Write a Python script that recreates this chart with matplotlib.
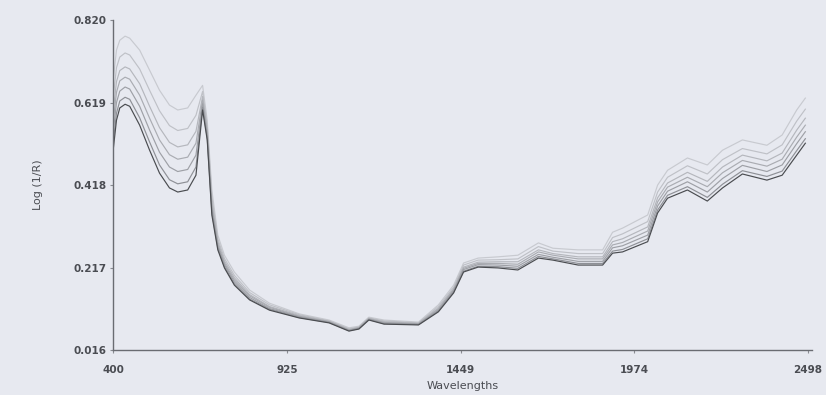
import numpy as np
import matplotlib
matplotlib.use('Agg')
import matplotlib.pyplot as plt

# Wavelength knots (nm)
wavelengths = [400, 410, 420, 436, 450, 480, 510, 540, 570, 595, 625, 650, 670, 684, 698,
               716, 736, 766, 812, 872, 962, 1052, 1112, 1142, 1172, 1218, 1322, 1382, 1428,
               1458, 1502, 1562, 1622, 1684, 1728, 1804, 1878, 1908, 1938, 2014, 2044, 2074,
               2134, 2194, 2240, 2300, 2374, 2420, 2464, 2490]

# log(1/R) spectra, lowest (darkest) to highest
spec_1 = [0.503, 0.576, 0.606, 0.615, 0.610, 0.564, 0.503, 0.447, 0.411, 0.401, 0.406, 0.442, 0.601,
          0.528, 0.345, 0.260, 0.216, 0.174, 0.138, 0.113, 0.094, 0.082, 0.062, 0.067, 0.089, 0.079,
          0.077, 0.109, 0.155, 0.206, 0.218, 0.216, 0.211, 0.240, 0.235, 0.223, 0.223, 0.252, 0.255,
          0.280, 0.350, 0.386, 0.406, 0.379, 0.411, 0.445, 0.430, 0.442, 0.491, 0.520]
spec_2 = [0.520, 0.593, 0.623, 0.632, 0.627, 0.582, 0.523, 0.467, 0.431, 0.421, 0.426, 0.462, 0.607,
          0.533, 0.351, 0.264, 0.219, 0.177, 0.140, 0.115, 0.095, 0.083, 0.063, 0.068, 0.090, 0.080,
          0.078, 0.111, 0.157, 0.208, 0.220, 0.219, 0.215, 0.244, 0.238, 0.227, 0.227, 0.257, 0.261,
          0.287, 0.357, 0.393, 0.414, 0.388, 0.420, 0.453, 0.439, 0.452, 0.502, 0.531]
spec_3 = [0.546, 0.619, 0.647, 0.657, 0.652, 0.610, 0.552, 0.498, 0.462, 0.451, 0.456, 0.491, 0.616,
          0.540, 0.360, 0.269, 0.224, 0.182, 0.144, 0.117, 0.097, 0.084, 0.064, 0.069, 0.091, 0.082,
          0.079, 0.113, 0.160, 0.212, 0.224, 0.223, 0.220, 0.249, 0.242, 0.232, 0.232, 0.265, 0.270,
          0.296, 0.367, 0.403, 0.426, 0.401, 0.434, 0.466, 0.451, 0.467, 0.519, 0.548]
spec_4 = [0.571, 0.644, 0.672, 0.681, 0.676, 0.637, 0.581, 0.528, 0.492, 0.481, 0.486, 0.520, 0.625,
          0.547, 0.369, 0.274, 0.228, 0.187, 0.148, 0.120, 0.098, 0.085, 0.065, 0.070, 0.092, 0.083,
          0.080, 0.116, 0.163, 0.215, 0.227, 0.227, 0.225, 0.255, 0.247, 0.238, 0.238, 0.272, 0.278,
          0.306, 0.377, 0.413, 0.437, 0.414, 0.448, 0.478, 0.464, 0.481, 0.535, 0.564]
spec_5 = [0.597, 0.670, 0.697, 0.706, 0.701, 0.665, 0.610, 0.558, 0.522, 0.511, 0.516, 0.549, 0.634,
          0.554, 0.379, 0.280, 0.233, 0.192, 0.151, 0.122, 0.100, 0.086, 0.066, 0.071, 0.093, 0.085,
          0.081, 0.118, 0.165, 0.218, 0.230, 0.231, 0.231, 0.260, 0.251, 0.243, 0.243, 0.280, 0.287,
          0.316, 0.387, 0.423, 0.449, 0.427, 0.462, 0.491, 0.477, 0.496, 0.552, 0.581]
spec_6 = [0.631, 0.704, 0.730, 0.740, 0.735, 0.701, 0.649, 0.599, 0.563, 0.551, 0.556, 0.588, 0.646,
          0.564, 0.391, 0.287, 0.239, 0.198, 0.156, 0.126, 0.102, 0.087, 0.068, 0.072, 0.094, 0.087,
          0.082, 0.122, 0.169, 0.223, 0.235, 0.236, 0.238, 0.268, 0.257, 0.251, 0.251, 0.290, 0.299,
          0.329, 0.401, 0.437, 0.465, 0.445, 0.480, 0.507, 0.494, 0.516, 0.574, 0.603]
spec_7 = [0.674, 0.747, 0.771, 0.781, 0.776, 0.747, 0.698, 0.649, 0.613, 0.601, 0.606, 0.637, 0.661,
          0.576, 0.406, 0.296, 0.247, 0.206, 0.162, 0.130, 0.104, 0.089, 0.070, 0.074, 0.096, 0.089,
          0.084, 0.126, 0.174, 0.228, 0.240, 0.243, 0.247, 0.277, 0.264, 0.260, 0.260, 0.303, 0.313,
          0.345, 0.418, 0.454, 0.484, 0.467, 0.503, 0.528, 0.515, 0.540, 0.601, 0.630]

spectra = [spec_7, spec_6, spec_5, spec_4, spec_3, spec_2, spec_1]
line_colors = ['#c8cad0', '#bfc1c7', '#b5b7bd', '#aaacb2', '#9ea0a6', '#8e9096', '#4a4c50']

x_ticks = [400, 925, 1449, 1974, 2498]
y_ticks = [0.016, 0.217, 0.418, 0.619, 0.820]
y_tick_labels = ['0.016', '0.217', '0.418', '0.619', '0.820']

bg = '#e7e9f0'
fig = plt.figure(figsize=(8.26, 3.95), dpi=100, facecolor=bg)
ax = fig.add_axes([0.137, 0.114, 0.846, 0.835], facecolor=bg)

for spec, col in zip(spectra, line_colors):
    ax.plot(wavelengths, spec, color=col, linewidth=0.85)

ax.set_xlim(400, 2510)
ax.set_ylim(0.016, 0.820)
ax.set_xticks(x_ticks)
ax.set_xticklabels([str(t) for t in x_ticks])
ax.set_yticks(y_ticks)
ax.set_yticklabels(y_tick_labels)

for side in ['top', 'right']:
    ax.spines[side].set_visible(False)
for side in ['left', 'bottom']:
    ax.spines[side].set_color('#6a6c72')
    ax.spines[side].set_linewidth(1.0)

ax.tick_params(axis='both', length=2, width=0.8, color='#8a8c92',
               labelsize=7.5, labelcolor='#4a4c52')
ax.tick_params(axis='x', pad=9)
ax.tick_params(axis='y', pad=3)
for lbl in ax.get_xticklabels() + ax.get_yticklabels():
    lbl.set_fontweight('bold')

ax.set_ylabel('Log (1/R)', fontsize=8, color='#4a4c52', labelpad=22)
ax.set_xlabel('Wavelengths', fontsize=8, color='#4a4c52', labelpad=4)

fig.savefig('out.png', dpi=100, facecolor=bg)
